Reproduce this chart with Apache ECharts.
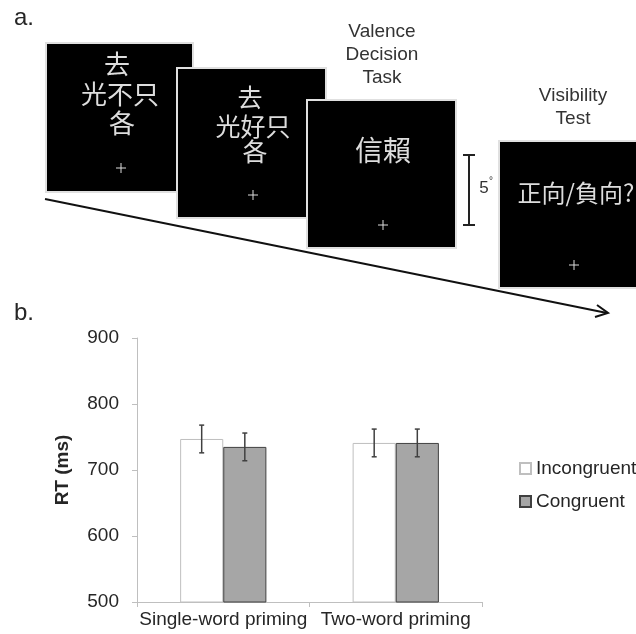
<!DOCTYPE html>
<html>
<head>
<meta charset="utf-8">
<script src="https://cdn.jsdelivr.net/npm/echarts@6/dist/echarts.min.js"></script>
<style>
html,body{margin:0;padding:0;background:#fff;}
#chart{width:636px;height:634px;}
</style>
</head>
<body>
<div id="chart"></div>
<script>
// ---- data ----
const categories = ['Single-word priming', 'Two-word priming'];
const seriesNames = ['Incongruent', 'Congruent'];
const incongruent = [747, 741];
const congruent = [735, 741];
const incongruentErr = [21, 21];
const congruentErr = [21, 21];
const yMin = 500, yMax = 900, yStep = 100;

// ---- diagram text ----
const sq1Rows = ['去', '光不只', '各'];
const sq2Rows = ['去', '光好只', '各'];
const targetWord = '信賴';
const visibilityQ = '正向/負向?';
const valenceTitle = 'Valence\nDecision\nTask';
const visibilityTitle = 'Visibility\nTest';

const chart = echarts.init(document.getElementById('chart'), null, {renderer: 'canvas'});

const SANS = '"Liberation Sans", Arial, sans-serif';
const CJK_SC = '"Noto Sans CJK SC", sans-serif';
const CJK_TC = '"Noto Sans CJK TC", sans-serif';
const TXT = '#262626';

function square(x, y, w, h, z) {
  return {type: 'rect', z: z, shape: {x: x, y: y, width: w, height: h},
    style: {fill: '#000', stroke: '#e0e0e0', lineWidth: 2}};
}
function cross(cx, cy, z) {
  return {type: 'group', z: z, children: [
    {type: 'line', z: z, shape: {x1: cx - 5, y1: cy, x2: cx + 5, y2: cy}, style: {stroke: '#ddd', lineWidth: 1}},
    {type: 'line', z: z, shape: {x1: cx, y1: cy - 5, x2: cx, y2: cy + 5}, style: {stroke: '#ddd', lineWidth: 1}}
  ]};
}
function txt(t, x, y, size, family, fill, z, extra) {
  return {type: 'text', z: z, style: Object.assign({text: t, x: x, y: y, fontSize: size, fontFamily: family,
    fill: fill, align: 'center', verticalAlign: 'middle'}, extra || {})};
}

const graphics = [
  txt('a.', 24, 18, 24, SANS, TXT, 10),
  txt('b.', 24, 313, 24, SANS, TXT, 10),
  // timeline arrow
  {type: 'line', z: 1, shape: {x1: 45, y1: 199, x2: 607, y2: 313}, style: {stroke: '#111', lineWidth: 2}},
  {type: 'polyline', z: 1, shape: {points: [[597, 305], [608, 313], [595, 317]]}, style: {stroke: '#111', lineWidth: 2, fill: null}},
  // square 1
  square(46, 43, 147, 149, 2),
  txt(sq1Rows[0], 117, 64, 26, CJK_SC, '#ddd', 3),
  txt(sq1Rows[1], 120, 94, 26, CJK_SC, '#ddd', 3),
  txt(sq1Rows[2], 122, 123, 26, CJK_SC, '#ddd', 3),
  cross(121, 168, 3),
  // square 2
  square(177, 68, 149, 150, 4),
  txt(sq2Rows[0], 250, 97, 25, CJK_SC, '#ddd', 5),
  txt(sq2Rows[1], 253, 126, 25, CJK_SC, '#ddd', 5),
  txt(sq2Rows[2], 255, 151, 25, CJK_SC, '#ddd', 5),
  cross(253, 195, 5),
  // square 3
  square(307, 100, 149, 148, 6),
  txt(targetWord, 383, 150, 28, CJK_TC, '#ddd', 7),
  cross(383, 225, 7),
  // square 4
  square(499, 141, 149, 147, 6),
  txt(visibilityQ, 576, 193, 24, CJK_TC, '#ddd', 7),
  cross(574, 265, 7),
  // titles
  txt(valenceTitle, 382, 55, 19, SANS, '#333', 10, {lineHeight: 23}),
  txt(visibilityTitle, 573, 107, 19, SANS, '#333', 10, {lineHeight: 23}),
  // 5 degree bracket
  {type: 'polyline', z: 8, shape: {points: [[463, 155], [475, 155]]}, style: {stroke: '#222', lineWidth: 2}},
  {type: 'polyline', z: 8, shape: {points: [[463, 225], [475, 225]]}, style: {stroke: '#222', lineWidth: 2}},
  {type: 'line', z: 8, shape: {x1: 469, y1: 155, x2: 469, y2: 225}, style: {stroke: '#222', lineWidth: 2}},
  txt('5', 484, 188, 17, SANS, '#333', 8),
  txt('°', 491, 181, 10, SANS, '#333', 8)
];

function errRender(side) {
  return function (params, api) {
    const i = api.value(0);
    const lo = api.coord([i, api.value(1)]);
    const hi = api.coord([i, api.value(2)]);
    const band = api.size([1, 0])[0];
    const x = lo[0] + side * band * 0.125;
    const st = {stroke: '#404040', lineWidth: 1.5};
    return {type: 'group', children: [
      {type: 'line', shape: {x1: x, y1: lo[1], x2: x, y2: hi[1]}, style: st},
      {type: 'line', shape: {x1: x - 2.5, y1: lo[1], x2: x + 2.5, y2: lo[1]}, style: st},
      {type: 'line', shape: {x1: x - 2.5, y1: hi[1], x2: x + 2.5, y2: hi[1]}, style: st}
    ]};
  };
}

chart.setOption({
  animation: false,
  backgroundColor: '#fff',
  textStyle: {fontFamily: SANS},
  graphic: graphics,
  grid: {left: 137, right: 154, top: 338, bottom: 32},
  legend: {
    data: seriesNames, orient: 'vertical', left: 519, top: 459, padding: 0,
    itemWidth: 11, itemHeight: 11, itemGap: 14, icon: 'rect',
    textStyle: {fontSize: 19, color: TXT, fontFamily: SANS}
  },
  xAxis: {
    type: 'category', data: categories,
    axisLine: {lineStyle: {color: '#bfbfbf', width: 1}},
    axisTick: {show: true, length: 5, lineStyle: {color: '#bfbfbf'}},
    axisLabel: {fontSize: 19, color: TXT, margin: 8, interval: 0}
  },
  yAxis: {
    type: 'value', min: yMin, max: yMax, interval: yStep,
    name: 'RT (ms)', nameLocation: 'middle', nameRotate: 90, nameGap: 65,
    nameTextStyle: {fontSize: 19, fontWeight: 'bold', color: TXT},
    axisLine: {show: true, lineStyle: {color: '#bfbfbf', width: 1}},
    axisTick: {show: true, length: 5, lineStyle: {color: '#bfbfbf'}},
    axisLabel: {fontSize: 19, color: TXT, margin: 18},
    splitLine: {show: false}
  },
  series: [
    {name: seriesNames[0], type: 'bar', data: incongruent, barGap: '0%', barCategoryGap: '50%',
     itemStyle: {color: '#ffffff', borderColor: '#bfbfbf', borderWidth: 1}},
    {name: seriesNames[1], type: 'bar', data: congruent, barGap: '0%', barCategoryGap: '50%',
     itemStyle: {color: '#a6a6a6', borderColor: '#404040', borderWidth: 1}},
    {type: 'custom', z: 5, renderItem: errRender(-1), encode: {x: 0, y: [1, 2]},
     data: categories.map((c, i) => [i, incongruent[i] - incongruentErr[i], incongruent[i] + incongruentErr[i]])},
    {type: 'custom', z: 5, renderItem: errRender(1), encode: {x: 0, y: [1, 2]},
     data: categories.map((c, i) => [i, congruent[i] - congruentErr[i], congruent[i] + congruentErr[i]])}
  ]
});
</script>
</body>
</html>
